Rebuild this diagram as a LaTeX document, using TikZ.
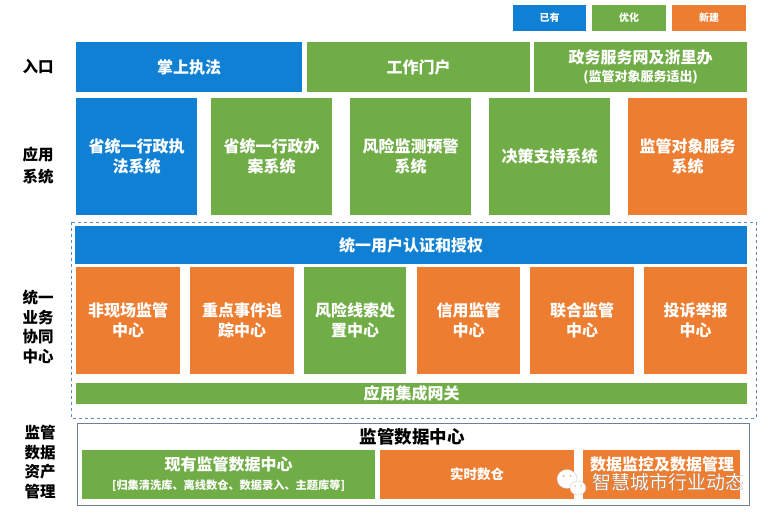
\documentclass[tikz,border=0pt]{standalone}
\usepackage{fontspec}
\setmainfont{Noto Sans CJK SC}
\definecolor{cblue}{HTML}{1080D4}
\definecolor{cgreen}{HTML}{70AD47}
\definecolor{corange}{HTML}{ED7D31}
\definecolor{cdash}{HTML}{5B8DB8}
\definecolor{cframe}{HTML}{6F7F95}
\newcommand{\bx}[7]{% name, style, x1,y1,x2,y2, text
  \node[#2,minimum width=#5pt-#3pt,minimum height=#6pt-#4pt] (#1) at ({(#3+#5)/2},{(#4+#6)/2}) {#7};}
\newcommand{\fs}[1]{\fontsize{#1}{#1*5/4}\selectfont}
\newcommand{\fz}[2]{\fontsize{#1}{#2}\selectfont}
\tikzset{
  base/.style={draw=none,inner sep=0pt,outer sep=0pt,text=white,align=center,font=\fz{16}{20}\bfseries},
  blue/.style={base,fill=cblue},
  green/.style={base,fill=cgreen},
  orange/.style={base,fill=corange},
  legend/.style={font=\fz{10}{12}\bfseries},
  sidelabel/.style={align=center,text=black,font=\fz{15.5}{19.5}\bfseries,inner sep=0pt}
}
\begin{document}
\begin{tikzpicture}[x=1pt,y=-1pt]
\useasboundingbox[fill=white] (0,0) rectangle (768,516);
% legend
\bx{l1}{blue,legend}{513}{5}{586}{31}{已有}
\bx{l2}{green,legend}{592}{5}{666}{31}{优化}
\bx{l3}{orange,legend}{672}{5}{746}{31}{新建}
% row 1
\bx{a1}{blue}{76}{42}{302}{92}{掌上执法}
\bx{a2}{green}{307}{42}{530}{92}{工作门户}
\bx{a3}{green}{534}{42}{747}{92}{政务服务网及浙里办\\[-2pt]{\fz{13}{16}(监管对象服务适出)}}
% row 2
\bx{b1}{blue}{76}{98}{197}{215}{省统一行政执\\法系统}
\bx{b2}{green}{211}{98}{332}{215}{省统一行政办\\案系统}
\bx{b3}{green}{350}{98}{471}{215}{风险监测预警\\系统}
\bx{b4}{green}{489}{98}{610}{215}{决策支持系统}
\bx{b5}{orange}{628}{98}{747}{215}{监管对象服务\\系统}
% middle
\draw[cdash,line width=0.9pt,dashed] (71,222) rectangle (756,418);
\bx{c0}{blue}{75}{226}{747}{264}{统一用户认证和授权}
\bx{c1}{orange}{76}{267}{180}{374}{非现场监管\\中心}
\bx{c2}{orange}{190}{267}{294}{374}{重点事件追\\踪中心}
\bx{c3}{green}{304}{267}{406}{374}{风险线索处\\置中心}
\bx{c4}{orange}{417}{267}{520}{374}{信用监管\\中心}
\bx{c5}{orange}{530}{267}{634}{374}{联合监管\\中心}
\bx{c6}{orange}{644}{267}{747}{374}{投诉举报\\中心}
\bx{c7}{green}{76}{383}{747}{404}{应用集成网关}
% data
\draw[cframe,line width=1pt,fill=white] (77,423) rectangle (749,505);
\node[font=\fz{17.5}{20}\bfseries,inner sep=0pt] (dt) at (412,437) {监管数据中心};
\bx{d1}{green}{82}{450}{375}{499}{现有监管数据中心\\[-1pt]{\fz{11.2}{14}[归集清洗库、离线数仓、数据录入、主题库等]}}
\bx{d2}{orange,font=\fz{13.5}{16}\bfseries}{380}{450}{574}{499}{实时数仓}
\bx{d3}{orange}{583}{450}{740}{499}{}
\node[inner sep=0pt,text=white,font=\fz{16}{20}\bfseries] (d3t) at (662,464) {数据监控及数据管理};
% side labels
\node[sidelabel] (s1) at (38,67) {入口};
\node[sidelabel,font=\fz{15.5}{22}\bfseries] (s2) at (38,166) {应用\\系统};
\node[sidelabel] (s3) at (38,327) {统一\\业务\\协同\\中心};
\node[sidelabel] (s4) at (40,462) {监管\\数据\\资产\\管理};
% watermark
\fill[white,draw=gray!50,line width=.3pt] (567,479) ellipse (10 and 9.5);
\fill[corange!60!white] (563.5,476) circle (1.1) (570.5,476) circle (1.1);
\fill[white,draw=gray!50,line width=.3pt] (578,488) ellipse (8 and 7);
\fill[corange!60!white] (575,486) circle (.9) (581,486) circle (.9);
\node[inner sep=0pt,text=gray!70!black,font=\fz{19}{22}] at (668.7,482.7) {智慧城市行业动态};
\node[inner sep=0pt,text=white,font=\fz{19}{22}] (wm) at (668,482) {智慧城市行业动态};
\end{tikzpicture}
\end{document}
